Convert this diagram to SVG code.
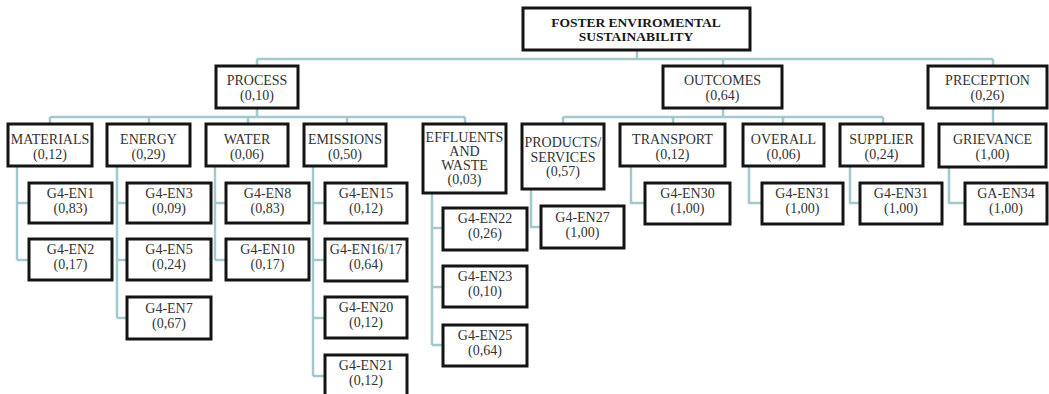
<svg xmlns="http://www.w3.org/2000/svg" width="1049" height="394" viewBox="0 0 1049 394">
<style>
.box{fill:#fff;stroke:#141414;stroke-width:3}
.ln{stroke:#a3c9cf;stroke-width:2.5;fill:none}
.t{font-family:"Liberation Serif","Times New Roman",serif;font-size:14px;fill:#333;text-anchor:middle}
.l1{font-size:14px}
.b{font-weight:bold;fill:#161616;font-size:13.5px}
</style>
<rect width="1049" height="394" fill="#fff"/>
<g id="connectors" class="ln">
<path d="M637 50V59M257 59H993M257 59V66M723 59V66M993 59V65"/>
<path d="M257 108V117M50 117H465M50 117V124M149 117V124M248 117V124M347 117V124M465 117V124"/>
<path d="M723 108V117M563 117H883M563 117V124M673 117V124M783 117V124M883 117V124"/>
<path d="M993 108V124"/>
<path d="M17 166V260M17 203H29M17 260H29"/>
<path d="M117 166V318M117 203H127M117 260H127M117 318H127"/>
<path d="M215 166V260M215 203H226M215 260H226"/>
<path d="M313 166V376M313 203H325M313 260H325M313 318H325M313 376H325"/>
<path d="M432 193V345M432 228H443M432 287H443M432 345H443"/>
<path d="M531 189V227H541"/>
<path d="M631 166V203H645"/>
<path d="M749 166V203H762"/>
<path d="M850 166V203H860"/>
<path d="M949 167V203H965"/>
</g>
<g id="root"><rect class="box" x="523" y="8" width="227" height="42"/><text class="t b"><tspan x="636" y="27">FOSTER ENVIROMENTAL</tspan><tspan x="636" y="41">SUSTAINABILITY</tspan></text></g>
<g id="process"><rect class="box" x="216" y="66" width="82" height="42"/><text class="t l1"><tspan x="257" y="85">PROCESS</tspan><tspan x="257" y="100">(0,10)</tspan></text></g>
<g id="outcomes"><rect class="box" x="663" y="66" width="119" height="42"/><text class="t l1"><tspan x="722.5" y="85">OUTCOMES</tspan><tspan x="722.5" y="100">(0,64)</tspan></text></g>
<g id="preception"><rect class="box" x="928" y="66" width="119" height="42"/><text class="t l1"><tspan x="987.5" y="85">PRECEPTION</tspan><tspan x="987.5" y="100">(0,26)</tspan></text></g>
<g id="materials"><rect class="box" x="8" y="124" width="84" height="42"/><text class="t l1"><tspan x="50" y="144">MATERIALS</tspan><tspan x="50" y="159">(0,12)</tspan></text></g>
<g id="energy"><rect class="box" x="107" y="124" width="83" height="42"/><text class="t l1"><tspan x="148.5" y="144">ENERGY</tspan><tspan x="148.5" y="159">(0,29)</tspan></text></g>
<g id="water"><rect class="box" x="206" y="124" width="82" height="42"/><text class="t l1"><tspan x="247" y="144">WATER</tspan><tspan x="247" y="159">(0,06)</tspan></text></g>
<g id="emissions"><rect class="box" x="304" y="124" width="82" height="42"/><text class="t l1"><tspan x="345" y="144">EMISSIONS</tspan><tspan x="345" y="159">(0,50)</tspan></text></g>
<g id="effluents"><rect class="box" x="423" y="124" width="83" height="69"/><text class="t l1"><tspan x="464.5" y="142">EFFLUENTS</tspan><tspan x="464.5" y="156">AND</tspan><tspan x="464.5" y="170">WASTE</tspan><tspan x="464.5" y="184">(0,03)</tspan></text></g>
<g id="products"><rect class="box" x="522" y="124" width="82" height="65"/><text class="t l1"><tspan x="563" y="147">PRODUCTS/</tspan><tspan x="563" y="162">SERVICES</tspan><tspan x="563" y="176">(0,57)</tspan></text></g>
<g id="transport"><rect class="box" x="620" y="124" width="105" height="42"/><text class="t l1"><tspan x="672.5" y="144">TRANSPORT</tspan><tspan x="672.5" y="159">(0,12)</tspan></text></g>
<g id="overall"><rect class="box" x="743" y="124" width="81" height="42"/><text class="t l1"><tspan x="783.5" y="144">OVERALL</tspan><tspan x="783.5" y="159">(0,06)</tspan></text></g>
<g id="supplier"><rect class="box" x="840" y="124" width="83" height="42"/><text class="t l1"><tspan x="881.5" y="144">SUPPLIER</tspan><tspan x="881.5" y="159">(0,24)</tspan></text></g>
<g id="grievance"><rect class="box" x="939" y="124" width="107" height="43"/><text class="t l1"><tspan x="992.5" y="144">GRIEVANCE</tspan><tspan x="992.5" y="159">(1,00)</tspan></text></g>
<g id="en1"><rect class="box" x="29" y="183" width="83" height="40"/><text class="t"><tspan x="70.5" y="198">G4-EN1</tspan><tspan x="70.5" y="213">(0,83)</tspan></text></g>
<g id="en2"><rect class="box" x="29" y="239" width="83" height="41"/><text class="t"><tspan x="70.5" y="254">G4-EN2</tspan><tspan x="70.5" y="269">(0,17)</tspan></text></g>
<g id="en3"><rect class="box" x="127" y="183" width="84" height="40"/><text class="t"><tspan x="169" y="198">G4-EN3</tspan><tspan x="169" y="213">(0,09)</tspan></text></g>
<g id="en5"><rect class="box" x="127" y="239" width="84" height="41"/><text class="t"><tspan x="169" y="254">G4-EN5</tspan><tspan x="169" y="269">(0,24)</tspan></text></g>
<g id="en7"><rect class="box" x="127" y="297" width="84" height="42"/><text class="t"><tspan x="169" y="313">G4-EN7</tspan><tspan x="169" y="328">(0,67)</tspan></text></g>
<g id="en8"><rect class="box" x="226" y="183" width="83" height="40"/><text class="t"><tspan x="267.5" y="198">G4-EN8</tspan><tspan x="267.5" y="213">(0,83)</tspan></text></g>
<g id="en10"><rect class="box" x="226" y="239" width="83" height="41"/><text class="t"><tspan x="267.5" y="254">G4-EN10</tspan><tspan x="267.5" y="269">(0,17)</tspan></text></g>
<g id="en15"><rect class="box" x="325" y="183" width="82" height="40"/><text class="t"><tspan x="366" y="198">G4-EN15</tspan><tspan x="366" y="213">(0,12)</tspan></text></g>
<g id="en16"><rect class="box" x="325" y="239" width="82" height="42"/><text class="t"><tspan x="366" y="254">G4-EN16/17</tspan><tspan x="366" y="269">(0,64)</tspan></text></g>
<g id="en20"><rect class="box" x="325" y="297" width="82" height="41"/><text class="t"><tspan x="366" y="312">G4-EN20</tspan><tspan x="366" y="327">(0,12)</tspan></text></g>
<g id="en21"><rect class="box" x="325" y="355" width="82" height="42"/><text class="t"><tspan x="366" y="370">G4-EN21</tspan><tspan x="366" y="385">(0,12)</tspan></text></g>
<g id="en22"><rect class="box" x="443" y="208" width="84" height="42"/><text class="t"><tspan x="485" y="223">G4-EN22</tspan><tspan x="485" y="238">(0,26)</tspan></text></g>
<g id="en23"><rect class="box" x="443" y="266" width="84" height="41"/><text class="t"><tspan x="485" y="281">G4-EN23</tspan><tspan x="485" y="296">(0,10)</tspan></text></g>
<g id="en25"><rect class="box" x="443" y="325" width="84" height="41"/><text class="t"><tspan x="485" y="340">G4-EN25</tspan><tspan x="485" y="355">(0,64)</tspan></text></g>
<g id="en27"><rect class="box" x="541" y="206" width="83" height="42"/><text class="t"><tspan x="582.5" y="222">G4-EN27</tspan><tspan x="582.5" y="237">(1,00)</tspan></text></g>
<g id="en30"><rect class="box" x="645" y="183" width="85" height="41"/><text class="t"><tspan x="687.5" y="198">G4-EN30</tspan><tspan x="687.5" y="213">(1,00)</tspan></text></g>
<g id="en31a"><rect class="box" x="762" y="183" width="81" height="41"/><text class="t"><tspan x="802.5" y="198">G4-EN31</tspan><tspan x="802.5" y="213">(1,00)</tspan></text></g>
<g id="en31b"><rect class="box" x="860" y="183" width="82" height="41"/><text class="t"><tspan x="901" y="198">G4-EN31</tspan><tspan x="901" y="213">(1,00)</tspan></text></g>
<g id="en34"><rect class="box" x="965" y="183" width="82" height="41"/><text class="t"><tspan x="1006" y="198">GA-EN34</tspan><tspan x="1006" y="213">(1,00)</tspan></text></g>
</svg>
